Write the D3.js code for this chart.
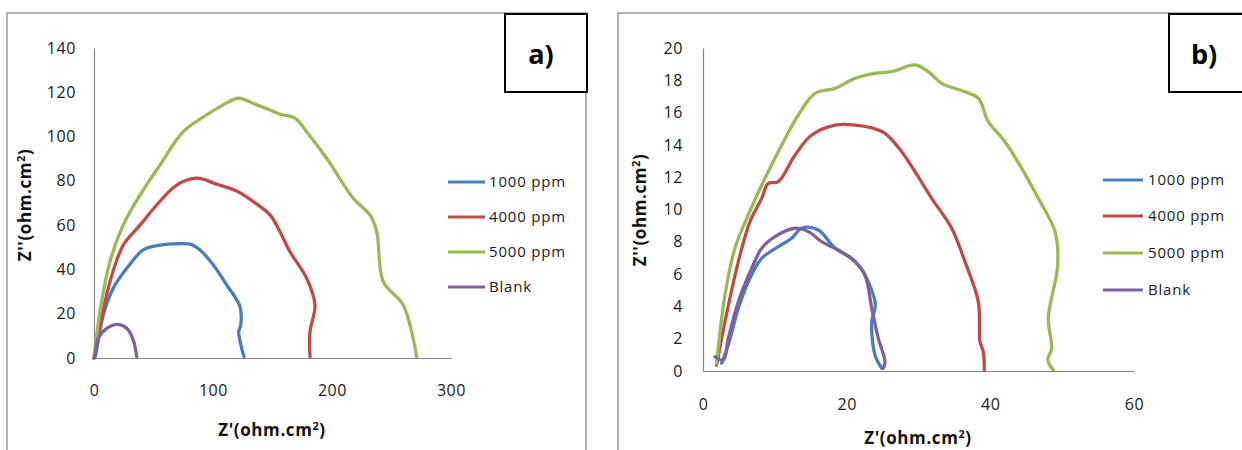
<!DOCTYPE html>
<html>
<head>
<meta charset="utf-8">
<style>
body { margin: 0; background: #fff; }
svg { display: block; font-family: "Open Sans", "Noto Sans", sans-serif; }
.tick text { fill: #1a1a1a; font-size: 16px; letter-spacing: 0.6px; }
.axis path.domain { stroke: #868686; stroke-width: 1.2; }
.frame { fill: none; stroke: #8c8c8c; stroke-width: 1.3; }
.title { font-weight: bold; font-size: 17px; fill: #111; letter-spacing: 0.6px; }
.legend text { font-size: 15px; fill: #1a1a1a; letter-spacing: 0.8px; }
.tag rect { fill: #fff; stroke: #000; stroke-width: 2; }
.tag text { font-weight: bold; font-size: 27px; fill: #000; }
</style>
</head>
<body>
<svg id="svg" width="1242" height="450"></svg>
<script src="https://cdnjs.cloudflare.com/ajax/libs/d3/7.8.5/d3.min.js"></script>
<script>
// series names / colours (Excel 2007 palette)
var seriesNames = ["1000 ppm", "4000 ppm", "5000 ppm", "Blank"]
var seriesColors = ["#4a7ebb", "#be4b48", "#98b954", "#7d60a0"]

// panel a) values, [Z', Z'']
var a1000 = [[0,0],[0.8,0.5],[7.8,19.4],[16.2,31.5],[27.5,40.5],[41.4,48.8],[52.7,50.7],[66.6,51.5],[80.7,51.4],
  [89.1,48.8],[100.3,42.0],[111.5,33.0],[122.7,23.2],[123.3,14.9],[121.6,11.9],[124.1,4.4],[126.1,0.6]]
var a4000 = [[0,0],[6.5,17.9],[13.4,34.5],[24.6,51.0],[38.7,60.0],[52.7,69.1],[69.5,78.1],[86.3,81.2],[103.1,78.5],
  [119.9,75.4],[133.9,70.6],[147.9,64.6],[156.3,57.0],[164.7,48.0],[178.7,36.0],[185.7,23.9],[181.5,11.9],[181.5,0.6]]
var a5000 = [[0,0],[5.0,20.9],[13.4,43.5],[24.6,60.1],[38.7,73.6],[55.5,87.2],[75.0,102.2],[94.7,109.8],[108.7,114.3],
  [121.3,117.3],[136.7,114.3],[147.9,112.0],[156.3,110.1],[168.9,108.3],[178.7,102.2],[195.5,90.2],[217.9,72.1],
  [231.9,64.6],[237.6,57.0],[243.1,34.5],[259.9,23.9],[271.2,0.6]]
var aBlank = [[0,0],[0.8,0.6],[3.6,8.9],[10.7,13.4],[20.4,15.2],[27.5,13.4],[33.0,8.1],[35.9,0.6]]

// panel b) values
var b1000 = [[2.6,0.48],[3.52,1.61],[4.92,3.88],[6.31,5.53],[8.17,6.98],[10.48,7.70],[12.35,8.22],[13.74,8.84],
  [16.05,8.73],[18.38,7.60],[20.7,6.98],[22.55,5.94],[23.95,4.29],[23.95,3.88],[23.49,3.05],[23.95,0.99],[24.88,0.17]]
var b4000 = [[1.9,0.37],[3.06,3.05],[4.92,6.77],[6.54,9.25],[8.17,10.69],[9.09,11.62],[10.48,11.72],[12.81,13.37],
  [15.13,14.61],[18.38,15.23],[21.16,15.23],[23.5,15.05],[25.34,14.72],[27.66,13.58],[29.51,12.34],[31.84,10.69],
  [34.62,8.84],[36.47,6.77],[38.33,4.29],[38.56,1.81],[39.02,1.20],[39.16,0.06]]
var b5000 = [[1.9,0.48],[3.06,4.7],[4.45,7.6],[6.3,9.66],[8.63,11.93],[10.96,13.99],[13.27,15.85],[15.59,17.19],
  [18.38,17.50],[21.16,18.12],[23.95,18.43],[26.27,18.53],[29.5,18.95],[31.37,18.53],[33.23,17.81],[36.47,17.29],
  [38.33,16.89],[39.72,15.44],[42.04,14.20],[44.37,12.55],[46.68,10.69],[49.0,8.63],[49.38,6.56],[48.07,3.26],
  [48.54,1.41],[47.99,0.68],[48.77,0.06]]
var bBlank = [[1.67,0.89],[2.83,0.68],[3.52,2.02],[4.92,4.29],[6.78,6.36],[8.17,7.60],[10.02,8.32],[12.81,8.84],
  [14.66,8.63],[16.52,8.01],[18.84,7.49],[21.16,6.77],[22.55,5.94],[23.49,3.88],[24.41,2.02],[25.34,0.58],[25.1,0.17]]

// tick values
var aXTicks = [0, 100, 200, 300]
var aYTicks = [0, 20, 40, 60, 80, 100, 120, 140]
var bXTicks = [0, 20, 40, 60]
var bYTicks = [0, 2, 4, 6, 8, 10, 12, 14, 16, 18, 20]

var svg = d3.select("#svg")

function drawPanel(p) {
  var g = svg.append("g")

  g.append("rect").attr("class", "frame")
    .attr("x", p.frame[0]).attr("y", p.frame[1]).attr("width", p.frame[2]).attr("height", 500)

  var x = d3.scaleLinear().domain(p.xDomain).range(p.xRange)
  var y = d3.scaleLinear().domain(p.yDomain).range(p.yRange)

  g.append("g").attr("class", "axis")
    .attr("transform", "translate(0," + y(0) + ")")
    .call(d3.axisBottom(x).tickValues(p.xTicks).tickSize(0).tickPadding(p.xPad))
  g.append("g").attr("class", "axis")
    .attr("transform", "translate(" + x(0) + ",0)")
    .call(d3.axisLeft(y).tickValues(p.yTicks).tickSize(0).tickPadding(p.yPad))
  g.selectAll(".axis").attr("font-family", null).attr("font-size", null)

  var line = d3.line()
    .x(function(d) { return x(d[0]) })
    .y(function(d) { return y(d[1]) })
    .curve(d3.curveCatmullRom.alpha(0.5))

  p.series.forEach(function(s, i) {
    g.append("path")
      .attr("d", line(s))
      .attr("fill", "none")
      .attr("stroke", seriesColors[i])
      .attr("stroke-width", 3.3)
      .attr("stroke-linejoin", "round")
      .attr("stroke-linecap", "round")
  })

  // axis titles
  var xt = g.append("text").attr("class", "title")
    .attr("x", p.xTitle[0]).attr("y", p.xTitle[1]).attr("text-anchor", "middle")
  xt.append("tspan").text("Z'(ohm.cm")
  xt.append("tspan").attr("font-size", "11px").attr("dy", "-6").text("2")
  xt.append("tspan").attr("dy", "6").text(")")

  var yt = g.append("text").attr("class", "title")
    .attr("transform", "translate(" + p.yTitle[0] + "," + p.yTitle[1] + ") rotate(-90)")
    .attr("text-anchor", "middle")
  yt.append("tspan").text("Z''(ohm.cm")
  yt.append("tspan").attr("font-size", "11px").attr("dy", "-6").text("2")
  yt.append("tspan").attr("dy", "6").text(")")

  // legend
  var lg = g.append("g").attr("class", "legend")
  seriesNames.forEach(function(name, i) {
    var ly = p.legend.y[i]
    lg.append("line")
      .attr("x1", p.legend.x1).attr("x2", p.legend.x2)
      .attr("y1", ly).attr("y2", ly)
      .attr("stroke", seriesColors[i]).attr("stroke-width", 3)
    lg.append("text")
      .attr("x", p.legend.tx).attr("y", ly).attr("dy", "0.35em")
      .text(name)
  })

  // panel tag
  var tag = g.append("g").attr("class", "tag")
  tag.append("rect").attr("x", p.tag[0]).attr("y", p.tag[1]).attr("width", p.tag[2]).attr("height", p.tag[3])
  tag.append("text").attr("x", p.tag[4]).attr("y", p.tag[5]).attr("text-anchor", "middle").text(p.label)
}

drawPanel({
  label: "a)",
  frame: [7, 13, 579],
  xDomain: [0, 300], xRange: [94, 451],
  yDomain: [0, 140], yRange: [358, 48],
  xTicks: aXTicks, yTicks: aYTicks, xPad: 27, yPad: 18,
  series: [a1000, a4000, a5000, aBlank],
  xTitle: [272, 436], yTitle: [31, 205],
  legend: { x1: 448, x2: 485, tx: 489, y: [182, 217, 252, 287] },
  tag: [505, 14, 82, 78, 541, 64]
})

drawPanel({
  label: "b)",
  frame: [618, 13, 700],
  xDomain: [0, 60], xRange: [703, 1134],
  yDomain: [0, 20], yRange: [371, 48],
  xTicks: bXTicks, yTicks: bYTicks, xPad: 28, yPad: 20,
  series: [b1000, b4000, b5000, bBlank],
  xTitle: [918, 444], yTitle: [646, 210],
  legend: { x1: 1103, x2: 1143, tx: 1148, y: [180, 216, 253, 290] },
  tag: [1169, 14, 100, 78, 1204, 64]
})
</script>
</body>
</html>
